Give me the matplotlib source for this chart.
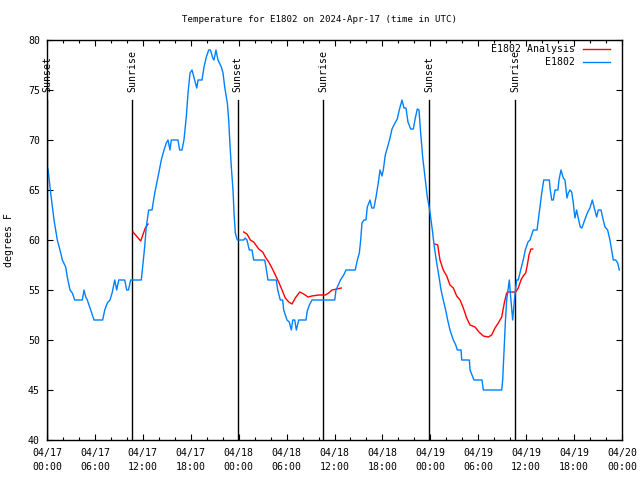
import matplotlib
matplotlib.use("Agg")
import matplotlib.pyplot as plt
from matplotlib.ticker import MultipleLocator

FONT = "DejaVu Sans Mono"
FS = 7.1
FS_TITLE = 6.6

# hours since 04/17 00:00 UTC
obs_t = [0.0, 0.13, 0.46, 0.88, 1.29, 1.72, 1.92, 2.34, 2.54, 2.88, 3.17, 3.47, 4.42, 4.63, 4.85,
         5.05, 5.47, 5.89, 6.97, 7.23, 7.55, 7.89, 8.18, 8.48, 8.73, 8.98, 9.73, 9.98, 10.2, 10.48,
         11.81, 11.98, 12.23, 12.43, 12.73, 13.15, 13.49, 13.9, 14.31, 14.65, 14.94, 15.15, 15.4,
         15.56, 16.4, 16.61, 16.9, 17.15, 17.44, 17.66, 17.91, 18.16, 18.49, 18.75, 18.91, 19.41,
         19.66, 19.95, 20.25, 20.47, 20.75, 20.91, 21.16, 21.41, 21.83, 22.04, 22.25, 22.58, 22.75,
         22.88, 23.08, 23.29, 23.42, 23.58, 23.83, 24.63, 24.8, 25.04, 25.33, 25.67, 25.88, 27.26,
         27.42, 27.67, 28.71, 28.89, 29.21, 29.51, 29.64, 30.05, 30.34, 30.59, 30.77, 31.02, 31.22,
         31.52, 32.43, 32.59, 32.85, 33.18, 36.03, 36.19, 36.75, 37.15, 37.44, 38.6, 38.86, 39.11,
         39.28, 39.44, 39.69, 39.94, 40.11, 40.45, 40.66, 40.94, 41.2, 41.48, 41.7, 41.95, 42.11,
         42.36, 42.61, 42.95, 43.2, 43.58, 43.86, 44.11, 44.45, 44.7, 44.95, 45.2, 45.54, 45.87,
         46.12, 46.37, 46.58, 46.79, 47.04, 47.33, 47.62, 47.92, 48.25, 48.5, 48.8, 49.09, 49.34,
         49.62, 49.92, 50.17, 50.46, 50.88, 51.18, 51.38, 51.85, 51.93, 52.89, 52.97, 53.47, 54.47,
         54.63, 56.94, 57.06, 57.23, 57.39, 57.56, 57.72, 57.89, 58.06, 58.31, 58.56, 58.81, 59.01,
         59.31, 59.63, 59.89, 60.23, 60.48, 60.89, 61.36, 61.52, 61.73, 61.95, 62.2, 62.9, 63.02,
         63.2, 63.4, 63.61, 63.98, 64.11, 64.36, 64.65, 64.86, 65.11, 65.28, 65.49, 65.7, 65.9,
         66.11, 66.32, 66.52, 66.77, 66.98, 67.33, 67.71, 67.99, 68.28, 68.53, 68.83, 69.03, 69.37,
         69.65, 69.87, 70.2, 70.49, 70.7, 70.91, 71.21, 71.46, 71.66]
obs_v = [67.2, 67.1, 64.7, 62, 60, 58.7, 58, 57.3, 56.3, 55, 54.7, 54, 54, 55, 54.3,
         54, 53, 52, 52, 53, 53.7, 54, 54.8, 56, 55, 56, 56, 55, 55, 56,
         56, 57.3, 59.3, 61.3, 63, 63, 64.7, 66.3, 68, 69, 69.7, 70, 69,
         70, 70, 69, 69, 70, 72.3, 74.7, 76.7, 77, 76, 75.2, 76, 76,
         77.3, 78.3, 79, 79, 78.2, 78, 79, 78, 77.3, 76.7, 75.3, 73.7, 72,
         70, 67.3, 65, 62.7, 60.7, 60, 60, 60.2, 60, 59, 59, 58, 58,
         57.3, 56, 56, 55, 54, 54, 53, 52, 51.8, 51, 52, 52, 51,
         52, 52, 52.9, 53.5, 54, 54, 55, 56, 56.5, 57, 57, 58, 58.7,
         60, 61.7, 62, 62, 63.3, 64, 63.2, 63.2, 64.3, 65.7, 67, 66.4, 67,
         68.5, 69.2, 70.2, 71.1, 71.7, 72.1, 73, 74, 73.2, 73.2, 71.8, 71.1, 71.1,
         72.2, 73.1, 73, 70.7, 68.3, 66.3, 64.3, 63, 61, 59.3, 57.7, 56.3, 55,
         54, 53, 52, 51, 50, 49.5, 49, 49, 48, 48, 47, 46, 46,
         45, 45, 46, 49, 51.7, 54, 55, 56, 54.3, 52, 54.3, 56, 56,
         57, 58, 59, 59.8, 60, 61, 61, 62, 63.3, 64.7, 66, 66, 65,
         64, 64, 65, 65, 66, 67, 66.2, 66, 64.2, 64.7, 65, 64.8, 63.7,
         62.2, 63, 62.2, 61.3, 61.2, 62, 62.8, 63.2, 64, 63.2, 62.3, 63, 63,
         62, 61.3, 61, 60, 59, 58, 58, 57.7, 57]

ana1_t = [10.77, 11.73, 12.31, 12.65]
ana1_v = [60.8, 59.9, 61.2, 61.6]
ana2_t = [24.63, 25.04, 25.46, 25.88, 26.51, 27.01, 27.34, 27.76, 28.17, 28.59, 29.01, 29.43,
          29.84, 30.27, 30.68, 31.09, 31.64, 32.14, 32.68, 33.18, 34.02, 34.85, 35.27, 35.69,
          36.31, 36.85]
ana2_v = [60.8, 60.6, 60, 59.8, 59.1, 58.8, 58.3, 57.8, 57.2, 56.5, 55.8, 55,
          54.2, 53.8, 53.6, 54.2, 54.8, 54.6, 54.3, 54.4, 54.5, 54.5, 54.7, 55,
          55.1, 55.2]
ana3_t = [48.58, 48.92, 49.21, 49.62, 50.05, 50.46, 50.88, 51.3, 51.72, 52.13, 52.55, 52.97,
          53.59, 54.09, 54.63, 55.26, 55.68, 56.1, 56.51, 56.94, 57.26, 57.56, 57.76, 58.69,
          59.01, 59.35, 59.63, 59.94, 60.19, 60.35, 60.6, 60.82]
ana3_v = [59.6, 59.5, 58, 57, 56.4, 55.5, 55.2, 54.4, 54, 53.2, 52.2, 51.5,
          51.3, 50.8, 50.4, 50.3, 50.5, 51.2, 51.7, 52.3, 53.7, 54.7, 54.8, 54.8,
          55.2, 56, 56.4, 56.7, 57.7, 58.5, 59.1, 59.1]

event_t = [0.0, 10.63, 23.9, 34.57, 47.83, 58.6]
event_names = ["Sunset", "Sunrise", "Sunset", "Sunrise", "Sunset", "Sunrise"]
event_top = 74.0

tick_hours = list(range(0, 73, 6))
tick_labels = ["04/17\n00:00", "04/17\n06:00", "04/17\n12:00", "04/17\n18:00",
               "04/18\n00:00", "04/18\n06:00", "04/18\n12:00", "04/18\n18:00",
               "04/19\n00:00", "04/19\n06:00", "04/19\n12:00", "04/19\n18:00",
               "04/20\n00:00"]

BLUE = "#0080ff"
RED = "#ff0000"

fig = plt.figure(figsize=(6.4, 4.8), dpi=100)
ax = fig.add_axes([47/640, 1-440/480, 575/640, 400/480])

for i, (t0, nm) in enumerate(zip(event_t, event_names)):
    ax.plot([t0, t0], [40, event_top], color="black", lw=1.0, zorder=1)
    ax.text(t0, event_top + 0.8, nm, rotation=90, ha="center", va="bottom",
            family=FONT, fontsize=FS, zorder=3)

ax.plot(ana1_t, ana1_v, color=RED, lw=1.0, label="E1802 Analysis", zorder=2)
ax.plot(ana2_t, ana2_v, color=RED, lw=1.0, zorder=2)
ax.plot(ana3_t, ana3_v, color=RED, lw=1.0, zorder=2)
ax.plot(obs_t, obs_v, color=BLUE, lw=1.0, label="E1802", zorder=2)

ax.set_xlim(0, 72)
ax.set_ylim(40, 80)
ax.set_xticks(tick_hours)
ax.set_xticklabels(tick_labels, family=FONT, fontsize=FS, linespacing=1.4)
ax.xaxis.set_minor_locator(MultipleLocator(2))
ax.yaxis.set_major_locator(MultipleLocator(5))
for lab in ax.get_yticklabels():
    lab.set_family(FONT)
    lab.set_fontsize(FS)
ax.tick_params(axis="x", which="major", direction="in", length=4.5, width=0.8,
               top=True, pad=6)
ax.tick_params(axis="y", which="major", direction="in", length=4.5, width=0.8,
               right=True, pad=5)
ax.tick_params(axis="x", which="minor", direction="in", length=2.2, width=0.8, top=True)
for sp in ax.spines.values():
    sp.set_linewidth(1.0)

ax.set_ylabel("degrees F", family=FONT, fontsize=FS, labelpad=10)
fig.text(0.5, 1-20/480, "Temperature for E1802 on 2024-Apr-17 (time in UTC)",
         ha="center", va="center", family=FONT, fontsize=FS_TITLE)

leg = ax.legend(loc="upper right", bbox_to_anchor=(1 - 12/575, 1 - 4/400),
                frameon=False, markerfirst=False,
                prop={"family": FONT, "size": FS}, handlelength=2.7,
                borderaxespad=0.0, labelspacing=0.3, handletextpad=0.8,
                borderpad=0.0)

fig.savefig("out.png", dpi=100)
